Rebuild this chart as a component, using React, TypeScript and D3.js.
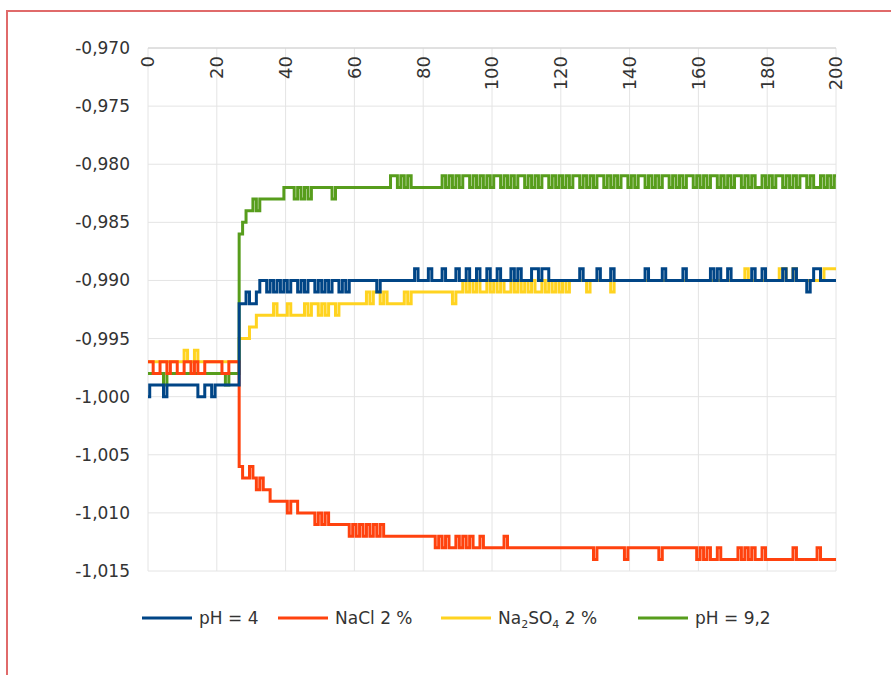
import React from 'react'
import * as d3 from 'd3'

// readings in thousandths of the potential, one per second (0..200 s)
const ph4 = [
  -1000, -999, -999, -999, -999, -1000, -999, -999, -999, -999,
  -999, -999, -999, -999, -999, -1000, -1000, -999, -999, -1000,
  -999, -999, -999, -999, -999, -999, -999, -992, -992, -991,
  -992, -992, -991, -990, -990, -991, -990, -991, -990, -991,
  -990, -991, -990, -990, -991, -990, -991, -990, -990, -991,
  -990, -991, -990, -991, -990, -990, -991, -990, -991, -990,
  -990, -990, -990, -990, -990, -990, -990, -991, -990, -990,
  -990, -990, -990, -990, -990, -990, -990, -990, -989, -990,
  -990, -990, -989, -990, -990, -990, -989, -990, -990, -990,
  -989, -990, -990, -989, -990, -990, -989, -990, -990, -989,
  -990, -990, -989, -990, -990, -990, -989, -990, -989, -990,
  -990, -990, -989, -989, -990, -989, -989, -990, -990, -990,
  -990, -990, -990, -990, -990, -990, -989, -990, -990, -990,
  -990, -989, -990, -990, -990, -989, -990, -990, -990, -990,
  -990, -990, -990, -990, -990, -989, -990, -990, -990, -990,
  -989, -990, -990, -990, -990, -990, -989, -990, -990, -990,
  -990, -990, -990, -990, -989, -990, -989, -990, -990, -989,
  -990, -990, -990, -990, -990, -990, -989, -990, -990, -989,
  -990, -990, -990, -990, -990, -989, -990, -990, -989, -990,
  -990, -990, -991, -990, -989, -989, -990, -990, -990, -990,
  -990,
]

const nacl = [
  -997, -997, -998, -998, -997, -997, -998, -997, -997, -998,
  -998, -997, -997, -998, -997, -998, -998, -997, -997, -997,
  -997, -997, -998, -998, -997, -997, -997, -1006, -1007, -1007,
  -1006, -1007, -1008, -1007, -1008, -1008, -1009, -1009, -1009, -1009,
  -1009, -1010, -1009, -1009, -1010, -1010, -1010, -1010, -1010, -1011,
  -1010, -1011, -1010, -1011, -1011, -1011, -1011, -1011, -1011, -1012,
  -1011, -1012, -1011, -1012, -1011, -1012, -1011, -1012, -1011, -1012,
  -1012, -1012, -1012, -1012, -1012, -1012, -1012, -1012, -1012, -1012,
  -1012, -1012, -1012, -1012, -1013, -1012, -1013, -1012, -1013, -1013,
  -1012, -1013, -1012, -1013, -1012, -1013, -1013, -1012, -1013, -1013,
  -1013, -1013, -1013, -1013, -1012, -1013, -1013, -1013, -1013, -1013,
  -1013, -1013, -1013, -1013, -1013, -1013, -1013, -1013, -1013, -1013,
  -1013, -1013, -1013, -1013, -1013, -1013, -1013, -1013, -1013, -1013,
  -1014, -1013, -1013, -1013, -1013, -1013, -1013, -1013, -1013, -1014,
  -1013, -1013, -1013, -1013, -1013, -1013, -1013, -1013, -1013, -1014,
  -1013, -1013, -1013, -1013, -1013, -1013, -1013, -1013, -1013, -1013,
  -1014, -1013, -1014, -1013, -1014, -1014, -1013, -1014, -1014, -1014,
  -1014, -1014, -1013, -1014, -1013, -1014, -1013, -1014, -1014, -1013,
  -1014, -1014, -1014, -1014, -1014, -1014, -1014, -1014, -1013, -1014,
  -1014, -1014, -1014, -1014, -1014, -1013, -1014, -1014, -1014, -1014,
  -1014,
]

const na2so4 = [
  -997, -997, -997, -997, -997, -997, -997, -997, -997, -997,
  -997, -996, -997, -997, -996, -997, -997, -997, -997, -997,
  -997, -997, -997, -997, -997, -997, -997, -995, -995, -995,
  -994, -994, -993, -993, -993, -993, -993, -992, -993, -993,
  -993, -992, -993, -993, -993, -993, -992, -993, -992, -992,
  -993, -992, -993, -992, -992, -993, -992, -992, -992, -992,
  -992, -992, -992, -992, -991, -992, -991, -991, -992, -991,
  -992, -992, -992, -992, -992, -991, -992, -991, -991, -991,
  -991, -991, -991, -991, -991, -991, -991, -991, -991, -992,
  -991, -991, -990, -991, -990, -991, -990, -991, -991, -990,
  -991, -990, -991, -990, -991, -991, -990, -991, -990, -991,
  -990, -991, -990, -991, -991, -990, -991, -990, -991, -990,
  -991, -990, -991, -990, -990, -990, -990, -990, -991, -990,
  -990, -990, -990, -990, -990, -991, -990, -990, -990, -990,
  -990, -990, -990, -990, -990, -990, -990, -990, -990, -990,
  -990, -990, -990, -990, -990, -990, -990, -990, -990, -990,
  -990, -990, -990, -990, -990, -990, -990, -990, -990, -990,
  -990, -990, -990, -990, -989, -990, -990, -990, -990, -990,
  -990, -990, -990, -990, -989, -989, -990, -990, -989, -990,
  -990, -990, -990, -990, -990, -990, -990, -989, -989, -989,
  -989,
]

const ph92 = [
  -998, -998, -998, -998, -998, -999, -998, -998, -998, -998,
  -998, -998, -998, -998, -998, -998, -998, -998, -998, -998,
  -998, -998, -998, -999, -998, -998, -998, -986, -985, -984,
  -984, -983, -984, -983, -983, -983, -983, -983, -983, -983,
  -982, -982, -982, -983, -982, -983, -982, -983, -982, -982,
  -982, -982, -982, -982, -983, -982, -982, -982, -982, -982,
  -982, -982, -982, -982, -982, -982, -982, -982, -982, -982,
  -982, -981, -981, -982, -981, -982, -981, -982, -982, -982,
  -982, -982, -982, -982, -982, -982, -981, -982, -981, -982,
  -981, -982, -981, -981, -982, -981, -982, -981, -982, -981,
  -982, -981, -981, -982, -981, -982, -981, -982, -981, -981,
  -982, -981, -982, -981, -982, -981, -981, -982, -981, -982,
  -981, -982, -981, -982, -981, -981, -982, -981, -982, -981,
  -982, -981, -981, -982, -981, -982, -981, -982, -981, -981,
  -982, -981, -982, -981, -981, -982, -981, -982, -981, -982,
  -981, -981, -982, -981, -982, -981, -982, -981, -981, -982,
  -981, -982, -981, -982, -981, -981, -982, -981, -982, -981,
  -982, -981, -981, -982, -981, -982, -981, -982, -982, -981,
  -982, -981, -982, -981, -981, -982, -981, -982, -981, -982,
  -981, -981, -982, -981, -982, -982, -981, -982, -981, -982,
  -981,
]

const xTicks = [0, 20, 40, 60, 80, 100, 120, 140, 160, 180, 200]
const yTicks = [-0.97, -0.975, -0.98, -0.985, -0.99, -0.995, -1.0, -1.005, -1.01, -1.015]

const series = [
  { key: 'na2so4', data: na2so4, color: '#ffd320' },
  { key: 'ph92', data: ph92, color: '#579d1c' },
  { key: 'nacl', data: nacl, color: '#ff420e' },
  { key: 'ph4', data: ph4, color: '#004586' },
]

const legendItems = [
  { label: 'pH = 4', color: '#004586', x: 142 },
  { label: 'NaCl 2 %', color: '#ff420e', x: 278 },
  { label: 'Na2SO4 2 %', color: '#ffd320', x: 441 },
  { label: 'pH = 9,2', color: '#579d1c', x: 638 },
]

const fmt = (v: number) => v.toFixed(3).replace('.', ',')

export default function App() {
  const W = 891
  const H = 675
  const x = d3.scaleLinear().domain([0, 200]).range([148, 836])
  const y = d3.scaleLinear().domain([-0.97, -1.015]).range([48, 571])

  const line = d3.line<number>()
    .x((d, i) => x(i))
    .y(d => y(d / 1000))
    .curve(d3.curveStep)

  const font = '"DejaVu Sans", sans-serif'

  return (
    <svg width={W} height={H} style={{ position: 'absolute', left: 0, top: 0, background: '#fff' }}>
      <rect width={W} height={H} fill="#fff" />
      <path d={`M7,${H} V11 H${W}`} fill="none" stroke="#e06a6a" strokeWidth={2} />

      {xTicks.map(t => (
        <line key={'gx' + t} x1={x(t)} x2={x(t)} y1={48} y2={571} stroke="#e4e4e4" strokeWidth={1} />
      ))}
      {yTicks.map(t => (
        <line key={'gy' + t} x1={148} x2={836} y1={y(t)} y2={y(t)} stroke="#e4e4e4" strokeWidth={1} />
      ))}
      <line x1={148} x2={836} y1={48} y2={48} stroke="#d0d0d0" />

      {yTicks.map(t => (
        <text key={'ly' + t} x={130} y={y(t)} dy="0.35em" textAnchor="end"
          fontFamily={font} fontSize={17} fill="#333">{fmt(t)}</text>
      ))}
      {xTicks.map(t => (
        <text key={'lx' + t} transform={`translate(${x(t)},56) rotate(-90)`} dy="0.35em"
          textAnchor="end" fontFamily={font} fontSize={18} fill="#333">{t}</text>
      ))}

      {series.map(s => (
        <path key={s.key} d={line(s.data) || ''} fill="none" stroke={s.color}
          strokeWidth={3} strokeLinejoin="miter" />
      ))}

      {legendItems.map(it => (
        <g key={it.label}>
          <line x1={it.x} x2={it.x + 50} y1={618} y2={618} stroke={it.color} strokeWidth={3} />
          <text x={it.x + 57} y={618} dy="0.35em" fontFamily={font} fontSize={17} fill="#333">
            {it.label === 'Na2SO4 2 %' ? (
              <>
                <tspan>Na</tspan>
                <tspan fontSize={11} dy={4}>2</tspan>
                <tspan dy={-4}>SO</tspan>
                <tspan fontSize={11} dy={4}>4</tspan>
                <tspan dy={-4}>{'  2 %'}</tspan>
              </>
            ) : it.label}
          </text>
        </g>
      ))}
    </svg>
  )
}
